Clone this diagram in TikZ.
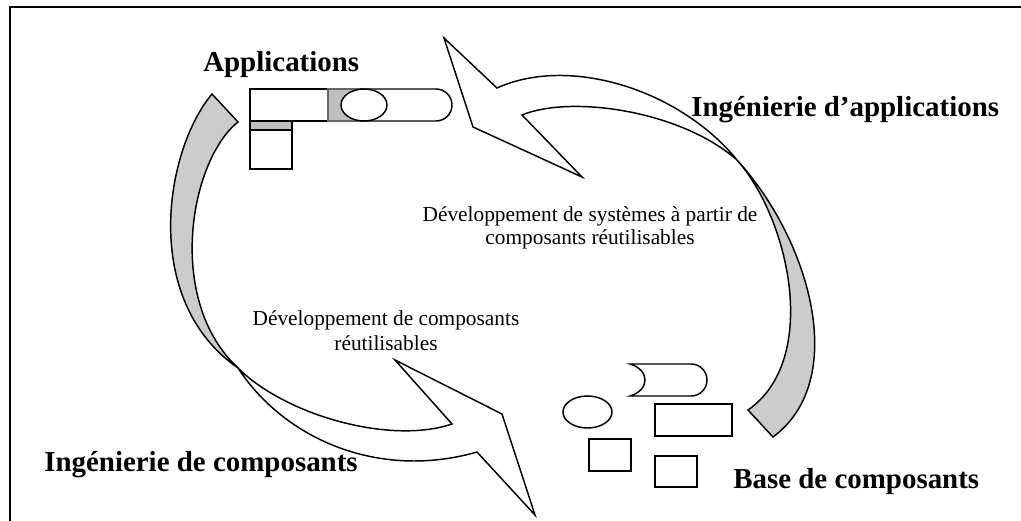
\documentclass[tikz,border=0pt]{standalone}
\usepackage{fontspec}
\setmainfont{Liberation Serif}
\definecolor{bandgray}{RGB}{204,204,204}
\definecolor{jointgray}{RGB}{190,190,190}
\begin{document}
\begin{tikzpicture}[x=0.75pt,y=-0.75pt,
  outline/.style={draw=black,line width=1.1pt,line join=miter},
  band/.style={outline,fill=bandgray},
  sheet/.style={outline,fill=white},
  title/.style={font=\fontsize{21.7}{26}\selectfont\bfseries,inner sep=0pt},
  caption/.style={font=\fontsize{16}{17}\selectfont,inner sep=0pt}]
\useasboundingbox (0,0) rectangle (1021,521);
\clip (0,0) rectangle (1021,521);

% frame
\draw[line width=1.5pt] (1040,7) -- (10,7) -- (10,540);

% left ribbon: grey back side, then white arrow towards the components
\draw[band] (212,94) .. controls (165,150) and (140,300) .. (238,368)
  .. controls (165,300) and (190,160) .. (238,122) -- cycle;
\draw[sheet] (238,368) .. controls (285,415) and (390,445) .. (452,424)
  -- (395,360) -- (502,414) -- (535,515) -- (477,452)
  .. controls (380,480) and (285,440) .. (238,368) -- cycle;

% right ribbon: white arrow towards the applications, then grey back side
\draw[sheet] (444,38) -- (473,127) -- (582,177) -- (522,115)
  .. controls (570,95) and (680,110) .. (737,160)
  .. controls (680,90) and (570,55) .. (497,88) -- cycle;
\draw[band] (737,160) .. controls (810,240) and (850,380) .. (773,437)
  -- (748,410) .. controls (820,360) and (790,220) .. (737,160) -- cycle;

% assembled application
\draw[sheet] (250,89) rectangle (328,121);
\draw[outline,fill=jointgray] (250,121) rectangle (292,130);
\draw[sheet] (250,130) rectangle (292,169);
\draw[draw=gray!80!black,line width=1.1pt,fill=jointgray] (328,89) rectangle (360,121);
\draw[sheet] (360,89) -- (436,89) arc[start angle=90,end angle=-90,x radius=16,y radius=-16]
  -- (360,121);
\draw[sheet] (364,105) ellipse[x radius=23,y radius=16];

% component base
\draw[sheet] (630,364) -- (691,364) arc[start angle=90,end angle=-90,x radius=16,y radius=-16]
  -- (630,396) .. controls (650,390) and (650,370) .. (630,364) -- cycle;
\draw[sheet] (587.5,412) ellipse[x radius=24.5,y radius=16];
\draw[sheet] (655,404) rectangle (732,436);
\draw[sheet] (589,439) rectangle (631,471);
\draw[sheet] (655,456) rectangle (697,487);

% labels
\node[title,anchor=base west] (apps) at (203,71) {Applications};
\node[title,anchor=base west] (appeng) at (691,116) {Ingénierie d’applications};
\node[title,anchor=base west] (compeng) at (44,471) {Ingénierie de composants};
\node[title,anchor=base west] (base) at (733,488) {Base de composants};

\node[caption,anchor=base] (sysdev1) at (590,221) {Développement de systèmes à partir de};
\node[caption,anchor=base] (sysdev2) at (590,244) {composants réutilisables};
\node[caption,anchor=base] (compdev1) at (386,325) {Développement de composants};
\node[caption,anchor=base] (compdev2) at (386,350) {réutilisables};
\end{tikzpicture}
\end{document}
